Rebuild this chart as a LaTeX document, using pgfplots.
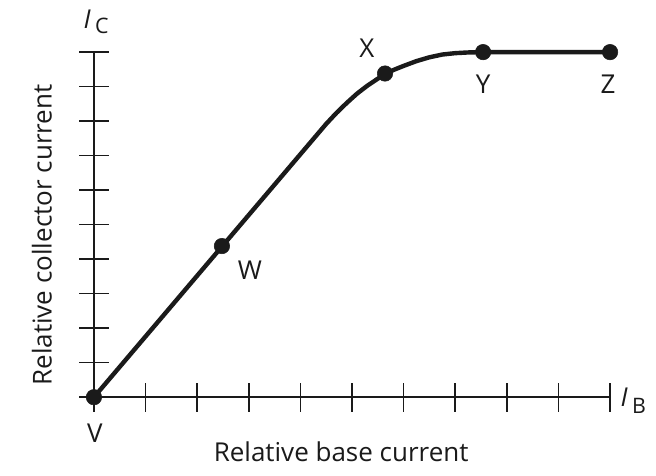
\documentclass[border=0pt]{standalone}
\usepackage{pgfplots}
\pgfplotsset{compat=1.18}
\usepackage{fontspec}
\setmainfont{Open Sans}
\definecolor{ink}{HTML}{1A1A1A}
\begin{document}
\begin{tikzpicture}
\begin{axis}[
  scale only axis, width=387pt, height=258.75pt,
  xmin=0, xmax=10, ymin=0, ymax=10,
  axis lines=left,
  axis line style={-, line width=1.2pt, ink},
  xtick={0,...,10}, ytick={0,...,10},
  xticklabels={}, yticklabels={},
  tick align=center, major tick length=22pt,
  tick style={line width=1.2pt, ink},
  clip=false,
]
\path (rel axis cs:-0.182,-0.226) rectangle (rel axis cs:1.089,1.151);
\addplot[line width=3.3pt, ink, line join=round, line cap=round] coordinates {
(0,0) (4.5,7.92) (4.7,8.24) (4.9,8.53) (5.1,8.80) (5.3,9.03) (5.5,9.23)
(5.64,9.36) (5.8,9.48) (6.0,9.6) (6.25,9.74) (6.5,9.85) (6.75,9.93)
(7.0,9.97) (7.25,9.99) (7.54,10) (10,10)};
\addplot[only marks, mark=*, mark size=5.8pt, ink] coordinates {
(0,0) (2.48,4.38) (5.64,9.38) (7.54,10) (10,10)};
\begin{scope}[every node/.style={font=\fontsize{19.5}{22}\selectfont, text=ink}]
\node at (axis cs:0.02,-1.04) {V};
\node at (axis cs:3.02,3.68) {W};
\node at (axis cs:5.29,10.12) {X};
\node at (axis cs:7.54,9.07) {Y};
\node at (axis cs:9.96,9.07) {Z};
\node at (axis cs:0.04,10.87) {\textit{I}\,\raisebox{-0.35ex}{\fontsize{16}{18}\selectfont C}};
\node at (axis cs:10.45,-0.1) {\textit{I}\,\raisebox{-0.55ex}{\fontsize{16}{18}\selectfont B}};
\node at (rel axis cs:0.479,-0.159) {Relative base current};
\node[rotate=90] at (rel axis cs:-0.1008,0.47) {Relative collector current};
\end{scope}
\end{axis}
\end{tikzpicture}
\end{document}
